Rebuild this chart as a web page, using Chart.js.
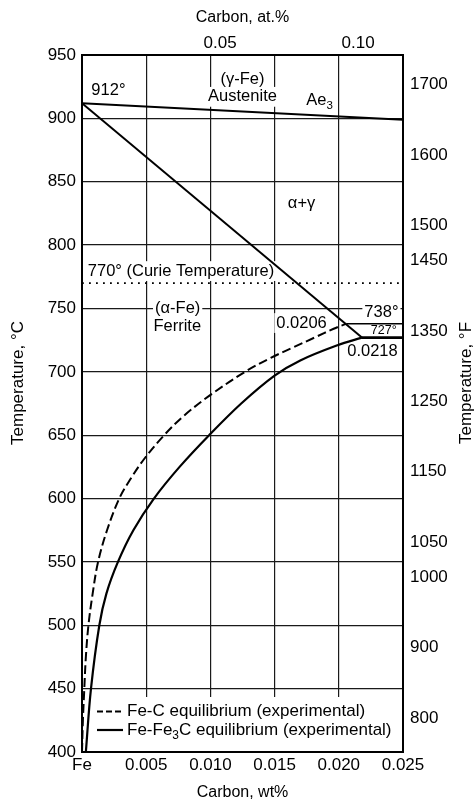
<!DOCTYPE html>
<html>
<head>
<meta charset="utf-8">
<title>Fe-C solvus, low-carbon end</title>
<script src="https://cdn.jsdelivr.net/npm/chart.js@4.4.1/dist/chart.umd.min.js"></script>
<style>
  html, body { margin: 0; padding: 0; background: #fff; }
  #wrap { width: 475px; height: 803px; position: relative; }
</style>
</head>
<body>
<div id="wrap"><canvas id="chart"></canvas></div>
<script>
const FONT = '"Liberation Sans", Arial, Helvetica, sans-serif';

// Axis ticks
const WT_TICKS = [0, 0.005, 0.010, 0.015, 0.020, 0.025];
const AT_TICKS = [0.05, 0.10];
const F_TICKS = [800, 900, 1000, 1050, 1150, 1250, 1350, 1450, 1500, 1600, 1700];

// Fe-C (graphite) solvus, experimental
const FEC_WT = [0, 0.00007, 0.00018, 0.0003, 0.0005, 0.00083, 0.00125, 0.00195, 0.0029,
                0.00375, 0.0049, 0.0064, 0.0079, 0.0099, 0.0127, 0.0147, 0.0164, 0.0181,
                0.0196, 0.0206];
const FEC_T  = [400, 425, 450, 475, 500, 525, 550, 575, 600,
                615, 632, 650, 665, 681, 700, 711, 719, 727,
                734, 738];

// Fe-Fe3C (cementite) solvus, experimental
const FE3C_WT = [0.0003, 0.0007, 0.00135, 0.0019, 0.0028, 0.0040, 0.0056, 0.0076,
                 0.0099, 0.0124, 0.0150, 0.0170, 0.0199, 0.0218];
const FE3C_T  = [400, 450, 500, 525, 550, 575, 600, 625,
                 650, 675, 697, 709, 721, 727];

// Ae3 (gamma / alpha+gamma) and alpha / alpha+gamma boundaries
const AE3_WT = [0, 0.025];
const AE3_T  = [912, 899];
const ALPHA_WT = [0, 0.0218];
const ALPHA_T  = [912, 727];

// eutectoid isotherms and the Curie temperature
const EUT_FEC_WT = [0.0206, 0.025];
const EUT_FEC_T  = [738, 738];
const EUT_FE3C_WT = [0.0218, 0.025];
const EUT_FE3C_T  = [727, 727];
const CURIE_WT = [0, 0.025];
const CURIE_T  = [770, 770];

// dilute Fe-C: at.% per wt.% carbon
const AT_PER_WT = 55.845 / 12.011;
const cToF = c => c * 9 / 5 + 32;

const pts = (xs, ys) => xs.map((x, i) => ({ x, y: ys[i] }));

const fontStr = size => `${size}px ${FONT}`;

function partsWidth(ctx, parts, size) {
  let w = 0;
  for (const p of parts) {
    ctx.font = fontStr(p.sub ? size * 0.7 : size);
    w += ctx.measureText(p.s).width;
  }
  return w;
}

function drawParts(ctx, parts, x, y, size) {
  for (const p of parts) {
    const fs = p.sub ? size * 0.7 : size;
    ctx.font = fontStr(fs);
    ctx.fillText(p.s, x, p.sub ? y + size * 0.32 : y);
    x += ctx.measureText(p.s).width;
  }
}

// region names and point labels, anchored in data units
const NOTES = [
  { parts: [{ s: `${AE3_T[0]}°` }], wt: 0.00073, t: 922, align: 'left' },
  { parts: [{ s: '(γ-Fe)' }], wt: 0.0125, t: 930.5 },
  { parts: [{ s: 'Austenite' }], wt: 0.0125, t: 917 },
  { parts: [{ s: 'Ae' }, { s: '3', sub: true }], wt: 0.0185, t: 914 },
  { parts: [{ s: 'α+γ' }], wt: 0.0171, t: 832.5 },
  { parts: [{ s: `${CURIE_T[0]}° (Curie Temperature)` }], wt: 0.00045, t: 779.5, align: 'left' },
  { parts: [{ s: '(α-Fe)' }], wt: 0.00745, t: 750 },
  { parts: [{ s: 'Ferrite' }], wt: 0.00742, t: 735.8 },
  { parts: [{ s: EUT_FEC_WT[0].toFixed(4) }], wt: 0.0171, t: 738.5 },
  { parts: [{ s: `${EUT_FEC_T[0]}°` }], wt: 0.02332, t: 747 },
  { parts: [{ s: `${EUT_FE3C_T[0]}°` }], wt: 0.0235, t: 732.4, size: 12.5 },
  { parts: [{ s: EUT_FE3C_WT[0].toFixed(4) }], wt: 0.02262, t: 716 }
];

const LEGEND_ROWS = [
  { dataset: 0, dash: [6, 3], parts: [{ s: 'Fe-C equilibrium (experimental)' }] },
  { dataset: 1, dash: [], parts: [{ s: 'Fe-Fe' }, { s: '3', sub: true }, { s: 'C equilibrium (experimental)' }] }
];

const notesPlugin = {
  id: 'phaseNotes',
  beforeDatasetsDraw(chart) {
    const { ctx, scales: { x, y } } = chart;
    ctx.save();
    ctx.textBaseline = 'middle';
    for (const n of NOTES) {
      const size = n.size || 16.5;
      const w = partsWidth(ctx, n.parts, size);
      const px = x.getPixelForValue(n.wt);
      const py = y.getPixelForValue(n.t);
      const left = n.align === 'left' ? px : px - w / 2;
      ctx.fillStyle = '#fff';
      ctx.fillRect(left - 2, py - size * 0.6, w + 4, size * 1.2);
      ctx.fillStyle = '#000';
      drawParts(ctx, n.parts, left, py, size);
    }
    ctx.restore();
  }
};

const legendPlugin = {
  id: 'insetLegend',
  beforeDatasetsDraw(chart) {
    const { ctx, chartArea: a } = chart;
    ctx.save();
    ctx.fillStyle = '#fff';
    ctx.fillRect(a.left + 11, a.bottom - 55, a.right - a.left - 12, 54);
    ctx.textBaseline = 'middle';
    LEGEND_ROWS.forEach((row, i) => {
      const ds = chart.data.datasets[row.dataset];
      const y = a.bottom - 40.5 + i * 18.5;
      ctx.strokeStyle = '#000';
      ctx.lineWidth = ds.borderWidth;
      ctx.setLineDash(row.dash);
      ctx.beginPath();
      ctx.moveTo(a.left + 15, y);
      ctx.lineTo(a.left + 41, y);
      ctx.stroke();
      ctx.fillStyle = '#000';
      drawParts(ctx, row.parts, a.left + 45, y, 17);
    });
    ctx.restore();
  }
};

// both temperature titles read bottom-to-top
const sideTitles = {
  id: 'sideTitles',
  afterDraw(chart) {
    const { ctx } = chart;
    ctx.save();
    ctx.fillStyle = '#000';
    ctx.font = fontStr(17);
    ctx.textAlign = 'center';
    ctx.textBaseline = 'middle';
    [[18.5, 'Temperature, °C'], [466, 'Temperature, °F']].forEach(([cx, text]) => {
      ctx.save();
      ctx.translate(cx, 383);
      ctx.rotate(-Math.PI / 2);
      ctx.fillText(text, 0, 0);
      ctx.restore();
    });
    ctx.restore();
  }
};

const line = (label, xs, ys, extra) => Object.assign({
  label,
  data: pts(xs, ys),
  borderColor: '#000',
  borderWidth: 2,
  pointRadius: 0,
  tension: 0,
  fill: false
}, extra);

const tickFont = { family: FONT, size: 17 };
const fixedTicks = values => scale => { scale.ticks = values.map(v => ({ value: v })); };

new Chart(document.getElementById('chart'), {
  type: 'line',
  data: {
    datasets: [
      line('Fe-C equilibrium (experimental)', FEC_WT, FEC_T,
           { borderDash: [9, 4], tension: 0.35 }),
      line('Fe-Fe3C equilibrium (experimental)', FE3C_WT, FE3C_T,
           { borderWidth: 2.2, tension: 0.35 }),
      line('Ae3', AE3_WT, AE3_T),
      line('alpha / alpha+gamma', ALPHA_WT, ALPHA_T),
      line('738', EUT_FEC_WT, EUT_FEC_T, { borderWidth: 1.5 }),
      line('727', EUT_FE3C_WT, EUT_FE3C_T, { borderWidth: 2.6 }),
      line('Curie', CURIE_WT, CURIE_T, { borderWidth: 1.8, borderDash: [1.8, 5.2] })
    ]
  },
  options: {
    responsive: true,
    maintainAspectRatio: false,
    animation: false,
    devicePixelRatio: 1,
    layout: { padding: 0 },
    plugins: {
      legend: { display: false },
      tooltip: { enabled: false }
    },
    scales: {
      x: {
        type: 'linear',
        position: 'bottom',
        min: 0,
        max: 0.025,
        afterBuildTicks: fixedTicks(WT_TICKS),
        afterFit: s => { s.height = 51; },
        ticks: {
          font: tickFont, color: '#000', padding: 3, maxRotation: 0, autoSkip: false,
          callback: v => v === 0 ? 'Fe' : v.toFixed(3)
        },
        grid: { color: '#1a1a1a', lineWidth: 1.2, drawTicks: false },
        border: { color: '#000', width: 2 },
        title: {
          display: true, text: 'Carbon, wt%', color: '#000',
          font: { family: FONT, size: 16 }, padding: { top: 0, bottom: 1 }
        }
      },
      xAt: {
        type: 'linear',
        position: 'top',
        min: 0,
        max: 0.025 * AT_PER_WT,
        afterBuildTicks: fixedTicks(AT_TICKS),
        afterFit: s => { s.height = 55; },
        ticks: {
          font: tickFont, color: '#000', padding: 1, maxRotation: 0, autoSkip: false,
          callback: v => v.toFixed(2)
        },
        grid: { drawOnChartArea: false, drawTicks: false },
        border: { color: '#000', width: 2 },
        title: {
          display: true, text: 'Carbon, at.%', color: '#000',
          font: { family: FONT, size: 16 }, padding: { top: 8, bottom: 0 }
        }
      },
      y: {
        type: 'linear',
        position: 'left',
        min: 400,
        max: 950,
        afterFit: s => { s.width = 82; },
        ticks: { stepSize: 50, font: tickFont, color: '#000', padding: 6, autoSkip: false },
        grid: { color: '#1a1a1a', lineWidth: 1.2, drawTicks: false },
        border: { color: '#000', width: 2 }
      },
      yF: {
        type: 'linear',
        position: 'right',
        min: cToF(400),
        max: cToF(950),
        afterBuildTicks: fixedTicks(F_TICKS),
        afterFit: s => { s.width = 72; },
        ticks: {
          font: tickFont, color: '#000', padding: 7, autoSkip: false,
          callback: v => String(v)
        },
        grid: { drawOnChartArea: false, drawTicks: false },
        border: { color: '#000', width: 2 }
      }
    }
  },
  plugins: [notesPlugin, legendPlugin, sideTitles]
});
</script>
</body>
</html>
